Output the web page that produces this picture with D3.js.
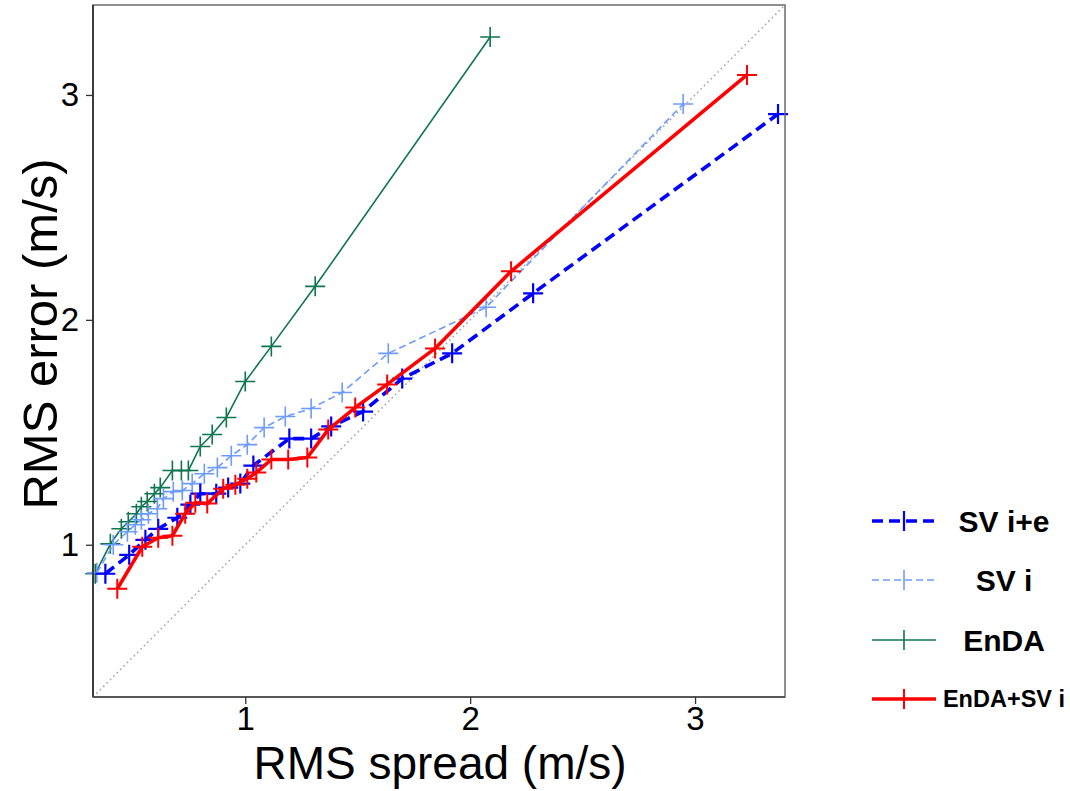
<!DOCTYPE html>
<html>
<head>
<meta charset="utf-8">
<script src="https://cdn.jsdelivr.net/npm/d3@7"></script>
<style>
  html, body { margin: 0; padding: 0; background: #fff; }
  svg { display: block; font-family: "Liberation Sans", Arial, Helvetica, sans-serif; }
</style>
</head>
<body>
<svg id="chart" width="1070" height="791"></svg>
<script>
// ---- data ----
const seriesNames = ["SV i+e", "SV i", "EnDA", "EnDA+SV i"];

const svieSpread = [0.378,0.484,0.556,0.613,0.698,0.756,0.800,0.871,0.924,0.978,1.036,1.196,1.293,1.382,1.524,1.698,1.920,2.280,3.369];
const svieError  = [0.871,0.955,1.022,1.071,1.120,1.178,1.227,1.227,1.254,1.272,1.352,1.472,1.472,1.526,1.592,1.739,1.851,2.118,2.915];

const sviSpread = [0.340,0.413,0.476,0.511,0.538,0.569,0.609,0.636,0.680,0.720,0.764,0.818,0.876,0.938,1.009,1.084,1.178,1.293,1.431,1.636,2.071,2.947];
const sviError  = [0.875,1.000,1.058,1.089,1.111,1.138,1.160,1.205,1.236,1.241,1.272,1.316,1.343,1.396,1.445,1.521,1.570,1.606,1.677,1.851,2.056,2.960];

const endaSpread = [0.333,0.400,0.449,0.480,0.516,0.538,0.564,0.596,0.622,0.676,0.716,0.747,0.800,0.853,0.916,1.000,1.116,1.311,2.089];
const endaError  = [0.871,1.004,1.071,1.102,1.138,1.169,1.192,1.227,1.254,1.330,1.330,1.330,1.437,1.490,1.566,1.726,1.882,2.149,3.258];

const endasviSpread = [0.431,0.542,0.613,0.676,0.733,0.778,0.831,0.902,0.956,1.009,1.049,1.116,1.191,1.276,1.369,1.489,1.631,1.844,2.182,3.231];
const endasviError  = [0.804,0.991,1.031,1.040,1.138,1.187,1.183,1.249,1.267,1.294,1.321,1.379,1.379,1.388,1.512,1.610,1.713,1.873,2.216,3.089];

const tickValues = [1, 2, 3];
const xTitle = "RMS spread (m/s)";
const yTitle = "RMS error (m/s)";

// ---- styles ----
const styles = [
  { color: "#0000ff", width: 3.6, dash: "11,6", mk: 2.2, ms: 10, legendFont: 30 },
  { color: "#6e9bff", width: 1.6, dash: "7,4",  mk: 1.6, ms: 10, legendFont: 30 },
  { color: "#0f7650", width: 1.6, dash: null,   mk: 1.6, ms: 10, legendFont: 30 },
  { color: "#ff0000", width: 3.6, dash: null,   mk: 2.0, ms: 10, legendFont: 23.5 }
];

const series = [
  { name: seriesNames[0], xs: svieSpread, ys: svieError },
  { name: seriesNames[1], xs: sviSpread, ys: sviError },
  { name: seriesNames[2], xs: endaSpread, ys: endaError },
  { name: seriesNames[3], xs: endasviSpread, ys: endasviError }
];

const svg = d3.select("#chart");
const L = 93, R = 785, T = 5, B = 697;
const dom = [0.323, 3.40];
const x = d3.scaleLinear().domain(dom).range([L, R]);
const y = d3.scaleLinear().domain(dom).range([B, T]);

// diagonal
svg.append("line")
  .attr("x1", x(dom[0])).attr("y1", y(dom[0]))
  .attr("x2", x(dom[1])).attr("y2", y(dom[1]))
  .attr("stroke", "#a8a8a8").attr("stroke-width", 1.6)
  .attr("stroke-dasharray", "1.6,3.2");

const line = d3.line().x(d => x(d[0])).y(d => y(d[1]));
const crossPath = (cx, cy, s) => `M${cx - s},${cy}H${cx + s}M${cx},${cy - s}V${cy + s}`;

// draw order: EnDA, SV i, SV i+e, EnDA+SV i
const order = [2, 1, 0, 3];
order.forEach(i => {
  const s = series[i], st = styles[i];
  const pts = s.xs.map((v, k) => [v, s.ys[k]]);
  const g = svg.append("g");
  g.append("path").datum(pts)
    .attr("d", line).attr("fill", "none")
    .attr("stroke", st.color).attr("stroke-width", st.width)
    .attr("stroke-dasharray", st.dash)
    .attr("stroke-linejoin", "round");
  g.selectAll("path.mk").data(pts).enter().append("path")
    .attr("class", "mk")
    .attr("d", d => crossPath(x(d[0]), y(d[1]), st.ms))
    .attr("stroke", st.color).attr("stroke-width", st.mk).attr("fill", "none");
});

// frame
svg.append("rect").attr("x", L).attr("y", T).attr("width", R - L).attr("height", B - T)
  .attr("fill", "none").attr("stroke", "#6a6a6a").attr("stroke-width", 1.5);
svg.append("line").attr("x1", L).attr("x2", L).attr("y1", T).attr("y2", B)
  .attr("stroke", "#333").attr("stroke-width", 1.8);
svg.append("line").attr("x1", L).attr("x2", R).attr("y1", B).attr("y2", B)
  .attr("stroke", "#444").attr("stroke-width", 1.6);

// axes
const xAxis = svg.append("g").attr("transform", `translate(0,${B})`)
  .call(d3.axisBottom(x).tickValues(tickValues).tickSize(7).tickPadding(3).tickFormat(d3.format("d")));
const yAxis = svg.append("g").attr("transform", `translate(${L},0)`)
  .call(d3.axisLeft(y).tickValues(tickValues).tickSize(7).tickPadding(7).tickFormat(d3.format("d")));
[xAxis, yAxis].forEach(a => {
  a.select(".domain").remove();
  a.selectAll(".tick line").attr("stroke", "#333").attr("stroke-width", 1.3);
  a.selectAll(".tick text").attr("fill", "#000")
    .style("font-size", "33px").style("font-family", '"Liberation Sans", Arial, sans-serif');
});

// titles
svg.append("text").attr("x", 440).attr("y", 779)
  .attr("text-anchor", "middle").style("font-size", "46px").attr("fill", "#000")
  .text(xTitle);
svg.append("text").attr("transform", "translate(57,334) rotate(-90)")
  .attr("text-anchor", "middle").style("font-size", "49px").attr("fill", "#000")
  .text(yTitle);

// legend
const legendY = [521, 580, 640, 699];
const lg = svg.append("g");
series.forEach((s, i) => {
  const st = styles[i], yy = legendY[i];
  lg.append("line").attr("x1", 872).attr("x2", 936).attr("y1", yy).attr("y2", yy)
    .attr("stroke", st.color).attr("stroke-width", st.width).attr("stroke-dasharray", st.dash);
  lg.append("line").attr("x1", 904).attr("x2", 904).attr("y1", yy - 10).attr("y2", yy + 10)
    .attr("stroke", st.color).attr("stroke-width", st.mk);
  lg.append("text").attr("x", 1004).attr("y", yy).attr("dy", "0.36em")
    .attr("text-anchor", "middle").style("font-size", st.legendFont + "px")
    .style("font-weight", "bold").attr("fill", "#000").text(s.name);
});
</script>
</body>
</html>
